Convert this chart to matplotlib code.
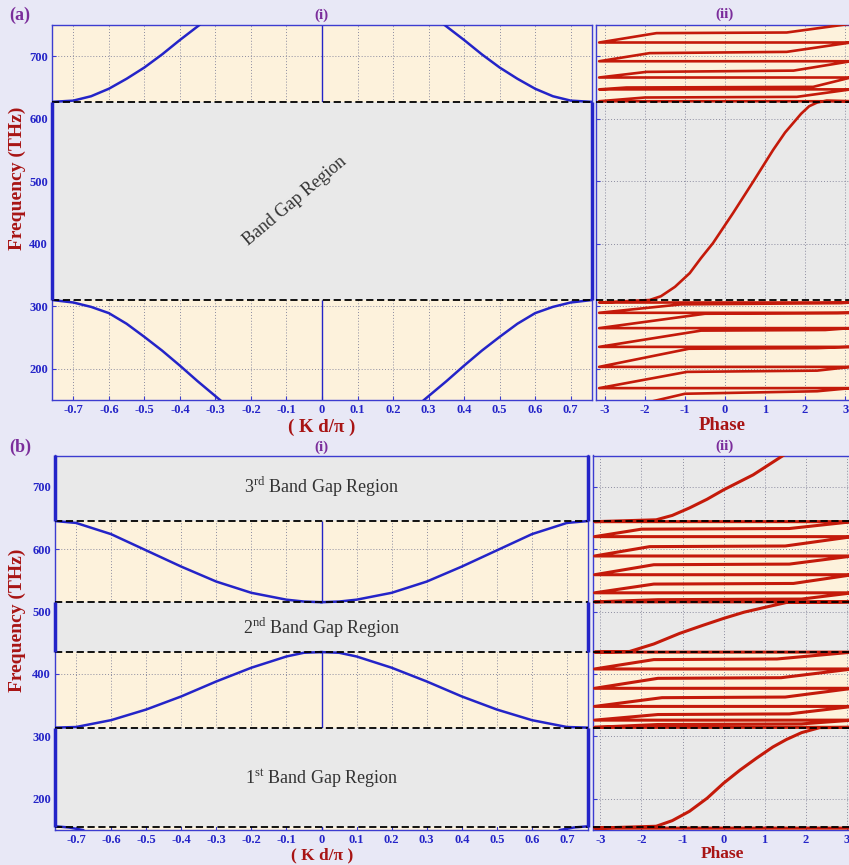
import numpy as np
import matplotlib.pyplot as plt

plt.rcParams['font.family'] = ['Liberation Serif', 'DejaVu Serif']
plt.rcParams['mathtext.fontset'] = 'custom'
plt.rcParams['mathtext.rm'] = 'Liberation Serif'

# colours
BG = '#e8e8f6'
PASS = '#fdf2dc'
GAP = '#e9e9e9'
BLUE = '#2424c8'
SPINE = '#3c3cd0'
RED = '#c41a0a'
DARKRED = '#a81414'
PURPLE = '#7b2d9b'

# ---------------- data: panel (a) ----------------
edges_a = [310, 627]
gaps_a = [(310, 627)]
pass_a = [(140, 310), (627, 760)]

# dispersion curves (left branch, mirrored to the right)
k_up_a = [-0.76, -0.7, -0.65, -0.6, -0.55, -0.5, -0.45, -0.4, -0.345]
f_up_a = [627, 629, 636, 648, 664, 682, 703, 726, 750]
k_lo_a = [-0.76, -0.7, -0.65, -0.6, -0.55, -0.5, -0.45, -0.4, -0.35, -0.287]
f_lo_a = [310, 306, 299, 289, 272, 251, 229, 205, 180, 150]

# phase sweeps in the lower pass band (level at -pi, knee 1, knee 2, level at +pi)
lo_a_L = [128, 169, 203, 235, 265, 289.5]
lo_a_p1 = [-1.0, -0.95, -0.9, -0.6, -0.5, -1.1]
lo_a_M1 = [160, 195, 232, 261, 288, 303]
lo_a_p2 = [2.3, 2.3, 2.3, 2.5, 2.8, 2.9]
lo_a_M2 = [164, 197, 233, 262, 289, 305]
lo_a_R = [169, 203, 235, 265, 289.5, 306]

# phase across the band gap
gap_a_ph = [-3.14, -1.88, -1.6, -1.25, -0.88, -0.6, -0.3, 0.2, 0.7, 1.2, 1.5,
            1.7, 1.9, 2.1, 2.3, 2.54, 3.14]
gap_a_f = [306, 310, 316, 331, 353, 377, 401, 449, 499, 550, 578,
           593, 608, 620, 626, 629, 628]

# phase sweeps in the upper pass band
up_a_L = [628, 647, 666, 692, 722]
up_a_p1 = [-2.0, -2.46, -1.96, -1.88, -1.71]
up_a_M1 = [634, 650, 675, 705, 737]
up_a_p2 = [1.79, 2.2, 1.71, 1.54, 1.54]
up_a_M2 = [635, 651, 677, 707, 738]
up_a_R = [647, 666, 692, 722, 752]

# ---------------- data: panel (b) ----------------
edges_b = [155, 314, 435, 515, 645]
gaps_b = [(155, 314), (435, 515), (645, 760)]
pass_b = [(140, 155), (314, 435), (515, 645)]

k_b = [-0.76, -0.7, -0.6, -0.5, -0.4, -0.3, -0.2, -0.1, -0.05, 0]
f_up_b = [645, 642, 624, 598, 572, 548, 530, 519, 516, 515]
f_lo_b = [314, 315, 326, 343, 364, 388, 410, 428, 434, 435]
k_4_b = [-0.76, -0.72, -0.68]
f_4_b = [156, 154, 150]

gap1_b_ph = [3.3, -3.14, -1.64, -1.25, -0.83, -0.4, 0, 0.4, 0.8, 1.2, 1.53, 1.9, 2.34, 3.14]
gap1_b_f = [153, 153, 156, 165, 180, 201, 225, 246, 265, 283, 295, 306, 314, 314.5]

b1_L = [314.5, 326, 348, 377, 408]
b1_p1 = [-1.6, -1.6, -1.5, -1.6, -1.7]
b1_M1 = [319, 335, 362, 393, 423]
b1_p2 = [1.9, 1.6, 1.5, 1.4, 1.3]
b1_M2 = [320, 336, 363, 394, 424]
b1_R = [326, 348, 377, 408, 435]

gap2_b_ph = [-3.14, -2.29, -1.7, -1.07, -0.5, 0, 0.5, 0.96, 1.53, 3.14]
gap2_b_f = [435, 436, 448, 465, 478, 489, 499, 506, 514.5, 515.5]

b2_L = [515.5, 530, 559, 589, 620]
b2_p1 = [-1.6, -1.7, -1.7, -1.8, -2.0]
b2_M1 = [519, 544, 575, 604, 632]
b2_p2 = [1.9, 1.7, 1.6, 1.5, 1.6]
b2_M2 = [520, 545, 576, 605, 633]
b2_R = [530, 559, 589, 620, 644]

gap3_b_ph = [-3.14, -1.64, -1.25, -0.83, -0.4, 0, 0.72, 1.45, 2.0]
gap3_b_f = [644, 647, 654, 666, 680, 695, 719, 750, 770]

# ticks
k_ticks = [-0.7, -0.6, -0.5, -0.4, -0.3, -0.2, -0.1, 0, 0.1, 0.2, 0.3, 0.4, 0.5, 0.6, 0.7]
k_labels = ['-0.7', '-0.6', '-0.5', '-0.4', '-0.3', '-0.2', '-0.1', '0',
            '0.1', '0.2', '0.3', '0.4', '0.5', '0.6', '0.7']
f_ticks = [200, 300, 400, 500, 600, 700]
ph_ticks = [-3, -2, -1, 0, 1, 2, 3]
ph_labels = ['-3', '-2', '-1', '0', '1', '2', '3']


def sweeps(L, P1, M1, P2, M2, R):
    ph, fr = [], []
    for l, p1, m1, p2, m2, r in zip(L, P1, M1, P2, M2, R):
        ph += [-np.pi, p1, p2, np.pi]
        fr += [l, m1, m2, r]
    return ph, fr


def style(ax, xt, xl, ylabels):
    ax.set_ylim(150, 750)
    ax.set_xticks(xt)
    ax.set_xticklabels(xl)
    ax.set_yticks(f_ticks)
    if ylabels:
        ax.set_yticklabels([str(v) for v in f_ticks])
    else:
        ax.set_yticklabels([])
    ax.tick_params(direction='in', length=3, color=SPINE, labelcolor=BLUE,
                   labelsize=9, pad=3)
    for lbl in ax.get_xticklabels() + ax.get_yticklabels():
        lbl.set_fontweight('bold')
    ax.grid(True, color='#8c8ca0', ls=(0, (1, 2)), lw=0.7)
    ax.set_axisbelow(True)
    for s in ax.spines.values():
        s.set_color(SPINE)
        s.set_linewidth(1.0)


def panel_i(ax, passes, gaps, edges):
    ax.set_facecolor(PASS)
    ax.set_xlim(-0.76, 0.76)
    style(ax, k_ticks, k_labels, True)
    for lo, hi in gaps:
        ax.axhspan(lo, hi, color=GAP, zorder=1, lw=0)
        ax.vlines([-0.76, 0.76], lo, min(hi, 750), color=BLUE, lw=2.5,
                  zorder=6, clip_on=False)
    for lo, hi in passes:
        ax.vlines(0, lo, hi, color=BLUE, lw=1.0, zorder=0.8)
    for e in edges:
        ax.axhline(e, color='k', ls=(0, (4, 2)), lw=1.3, zorder=5)


def panel_ii(ax, passes, edges, xlim):
    ax.set_facecolor(GAP)
    ax.set_xlim(*xlim)
    style(ax, ph_ticks, ph_labels, False)
    for lo, hi in passes:
        ax.axhspan(lo, hi, color=PASS, zorder=0.2, lw=0)
    for e in edges:
        ax.axhline(e, color='k', ls=(0, (4, 2)), lw=1.3, zorder=5)


W, H = 849, 865
fig = plt.figure(figsize=(8.49, 8.65), dpi=100, facecolor=BG)

ax_ai = fig.add_axes([52 / W, 1 - 400 / H, 540 / W, 375 / H])
ax_aii = fig.add_axes([596 / W, 1 - 400 / H, 258 / W, 375 / H])
ax_bi = fig.add_axes([55 / W, 1 - 830 / H, 533 / W, 374.5 / H])
ax_bii = fig.add_axes([593 / W, 1 - 830 / H, 262 / W, 374.5 / H])

# ---- (a)(i) ----
panel_i(ax_ai, pass_a, gaps_a, edges_a)
for k, f in [(k_up_a, f_up_a), (k_lo_a, f_lo_a)]:
    ax_ai.plot(k, f, color=BLUE, lw=1.8, zorder=4)
    ax_ai.plot([-v for v in k], f, color=BLUE, lw=1.8, zorder=4)
ax_ai.text(-0.075, 468, 'Band Gap Region', rotation=40, ha='center', va='center',
           fontsize=13, color='#333333', zorder=7)

# ---- (a)(ii) ----
panel_ii(ax_aii, pass_a, edges_a, (-3.22, 3.22))
ph1, f1 = sweeps(lo_a_L, lo_a_p1, lo_a_M1, lo_a_p2, lo_a_M2, lo_a_R)
ph2, f2 = sweeps(up_a_L, up_a_p1, up_a_M1, up_a_p2, up_a_M2, up_a_R)
ax_aii.plot(ph1 + gap_a_ph + ph2, f1 + gap_a_f + f2, color=RED, lw=1.9, zorder=4)

# ---- (b)(i) ----
panel_i(ax_bi, pass_b, gaps_b, edges_b)
for k, f in [(k_b, f_up_b), (k_b, f_lo_b), (k_4_b, f_4_b)]:
    ax_bi.plot(k, f, color=BLUE, lw=1.8, zorder=4)
    ax_bi.plot([-v for v in k], f, color=BLUE, lw=1.8, zorder=4)
ax_bi.text(0, 700, r'3$^{\rm rd}$ Band Gap Region', ha='center', va='center',
           fontsize=13, color='#333333', zorder=7)
ax_bi.text(0, 474, r'2$^{\rm nd}$ Band Gap Region', ha='center', va='center',
           fontsize=13, color='#333333', zorder=7)
ax_bi.text(0, 232, r'1$^{\rm st}$ Band Gap Region', ha='center', va='center',
           fontsize=13, color='#333333', zorder=7)

# ---- (b)(ii) ----
panel_ii(ax_bii, pass_b, edges_b, (-3.18, 3.2))
ph3, f3 = sweeps(b1_L, b1_p1, b1_M1, b1_p2, b1_M2, b1_R)
ph4, f4 = sweeps(b2_L, b2_p1, b2_M1, b2_p2, b2_M2, b2_R)
ax_bii.plot(gap1_b_ph + ph3 + gap2_b_ph + ph4 + gap3_b_ph,
            gap1_b_f + f3 + gap2_b_f + f4 + gap3_b_f, color=RED, lw=2.2, zorder=4)

# ---- labels ----
for y0, tag, xlab_y, xlab_fs in [(0, '(a)', 427, 13.5), (432, '(b)', 855.5, 12.5)]:
    fig.text(20 / W, 1 - (15 + y0) / H, tag, ha='center',
             va='center', fontsize=13, fontweight='bold', color=PURPLE)
    fig.text(321 / W, 1 - (15 + y0) / H, '(i)', ha='center', va='center',
             fontsize=11, fontweight='bold', color=PURPLE)
    fig.text(724 / W, 1 - (14 + y0) / H, '(ii)', ha='center', va='center',
             fontsize=11, fontweight='bold', color=PURPLE)
    fig.text(322 / W, 1 - xlab_y / H, '( K d/π )', ha='center', va='center',
             fontsize=xlab_fs, fontweight='bold', color=DARKRED)
    fig.text(722 / W, 1 - (xlab_y - 1) / H, 'Phase', ha='center', va='center',
             fontsize=xlab_fs, fontweight='bold', color=DARKRED)
    fig.text(17 / W, 1 - (178 + y0 + 10 * (y0 > 0)) / H, 'Frequency (THz)',
             rotation=90, ha='center', va='center', fontsize=14,
             fontweight='bold', color=DARKRED)

fig.savefig('out.png', dpi=100, facecolor=BG)
